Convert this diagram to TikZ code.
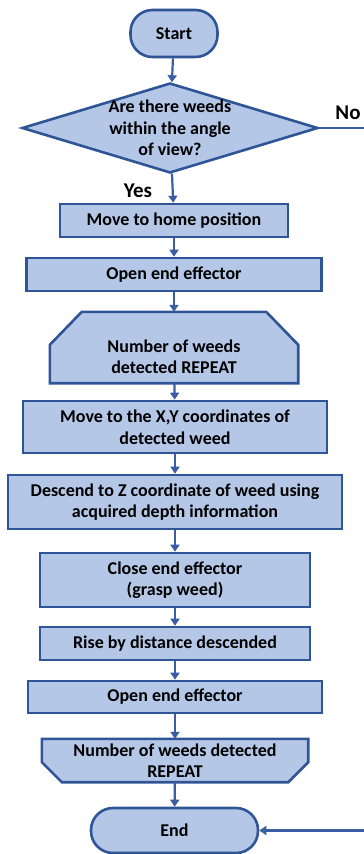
\documentclass[tikz,border=0pt]{standalone}
\usepackage{fontspec}
\setmainfont{Carlito}
\usepackage{tikz}
\usetikzlibrary{shapes.geometric, arrows.meta, positioning, backgrounds}
\definecolor{boxfill}{HTML}{B4C7E7}
\definecolor{boxline}{HTML}{2F5597}
\definecolor{flowline}{HTML}{3B5EA3}
\newcommand{\lowline}[1]{\raisebox{-9pt}[\height][\depth]{#1}}

\begin{document}
\begin{tikzpicture}[x=1pt, y=-1pt,
    every node/.style={font=\fontsize{18}{21.5}\selectfont\bfseries, align=center},
    procbox/.style={draw=boxline, fill=boxfill, line width=2.6pt, inner sep=0pt, minimum height=33pt},
    termbox/.style={procbox, rounded corners=22pt},
    decision/.style={diamond, draw=boxline, fill=boxfill, line width=2.6pt, inner sep=0pt},
    loopbox/.style={inner sep=0pt},
    loopline/.style={draw=boxline, fill=boxfill, line width=2.6pt},
    flow/.style={draw=flowline, line width=2.2pt, -{Triangle[width=9pt,length=7pt]}},
    answer/.style={font=\fontsize{21}{24}\selectfont\bfseries, inner sep=0pt}]
    \useasboundingbox (0,0) rectangle (364,854);
    \clip (0,0) rectangle (364,854);
    \node[termbox, minimum width=87pt, minimum height=47pt] (start) at (174,33.5) {Start};
    \node[decision, minimum width=296pt, minimum height=90pt,
      label={center:Are there weeds\\within the angle\\of view?}] (query) at (170,128) {};
    \node[procbox, minimum width=228pt] (home) at (174,220.5) {Move to home position};
    \node[procbox, minimum width=295pt] (open1) at (174,274.5) {Open end effector};
    \node[loopbox, minimum width=248pt, minimum height=71pt] (loop1) at (174,347.5)
      {\lowline{Number of weeds}\\\lowline{detected REPEAT}};
    \node[procbox, minimum width=304pt, minimum height=52pt] (move) at (175,427)
      {Move to the X,Y coordinates of\\detected weed};
    \node[procbox, minimum width=334pt, minimum height=54pt] (descend) at (175,502)
      {Descend to Z coordinate of weed using\\acquired depth information};
    \node[procbox, minimum width=270pt, minimum height=54pt] (close) at (175,580)
      {Close end effector\\(grasp weed)};
    \node[procbox, minimum width=270pt] (rise) at (175,643.5) {Rise by distance descended};
    \node[procbox, minimum width=294pt, minimum height=32pt] (open2) at (175,697) {Open end effector};
    \node[loopbox, minimum width=266pt, minimum height=43pt] (loop2) at (175,760.5)
      {Number of weeds detected\\REPEAT};
    \node[termbox, minimum width=167pt, minimum height=45pt] (end) at (174.5,830.5) {End};
    \node[answer] (yes) at (138,191) {Yes};
    \node[answer] (no) at (348,113) {No};
    \coordinate (noturn) at (372,128);

    % loop limit outlines
    \begin{scope}[on background layer]
      \path[loopline] (loop1.south west) -- ([yshift=-33pt]loop1.north west)
        -- ([xshift=32pt]loop1.north west) -- ([xshift=-32pt]loop1.north east)
        -- ([yshift=-33pt]loop1.north east) -- (loop1.south east) -- cycle;
      \path[loopline] (loop2.north west) -- ([yshift=20pt]loop2.south west)
        -- ([xshift=20pt]loop2.south west) -- ([xshift=-20pt]loop2.south east)
        -- ([yshift=20pt]loop2.south east) -- (loop2.north east) -- cycle;
    \end{scope}

    \draw[flow] (start) -- (query);
    \draw[flow] (query) -- (home);
    \draw[flow] (home) -- (open1);
    \draw[flow] (open1) -- (loop1);
    \draw[flow] (loop1) -- (move);
    \draw[flow] (move) -- (descend);
    \draw[flow] (descend) -- (close);
    \draw[flow] (close) -- (rise);
    \draw[flow] (rise) -- (open2);
    \draw[flow] (open2) -- (loop2);
    \draw[flow] (loop2) -- (end);
    \draw[flow] (query.east) -- (noturn) |- (end.east);
\end{tikzpicture}
\end{document}
